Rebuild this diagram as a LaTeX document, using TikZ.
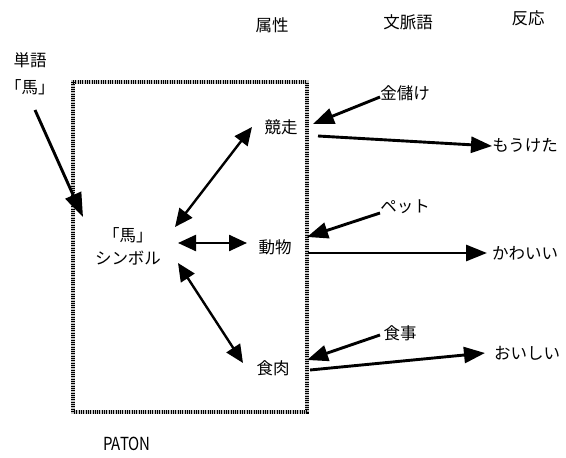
\documentclass[tikz,border=0pt]{standalone}
\usepackage{fontspec}
\setmainfont{Noto Sans CJK JP}
\usetikzlibrary{arrows.meta,calc}
\begin{document}
\begin{tikzpicture}[x=1pt,y=-1pt, font=\fontsize{16.5}{20}\selectfont,
 lbl/.style={inner sep=1pt},
 arr/.style={line width=2.9pt, -{Triangle[length=21pt,width=16pt]}},
 darr/.style={line width=2.4pt, {Triangle[length=18pt,width=16pt]}-{Triangle[length=18pt,width=16pt]}},
 frame/.style={line width=3.5pt}
]
\useasboundingbox (0,0) rectangle (566,458);
% PATON frame
\draw[frame, gray!45] (73,82) rectangle (307,412);
\draw[frame, dash pattern=on 0.9pt off 1.4pt] (73,82) rectangle (307,412);

% headers
\node[lbl] (h1) at (272,25) {属性};
\node[lbl] (h2) at (408,22) {文脈語};
\node[lbl] (h3) at (528,18) {反応};

% input word
\node[lbl] (word) at (30,60) {単語};
\node[lbl] (wordq) at (30,87) {「馬」};
\coordinate (wtip) at (83,217);

% symbol
\node[lbl, align=center] (sym) at (128,246) {「馬」\\[3pt]シンボル};

% attributes
\node[lbl] (kyoso) at (281,127) {競走};
\node[lbl] (dobutsu) at (275,247) {動物};
\node[lbl] (shoku) at (273,368) {食肉};

% context words
\node[lbl] (kin) at (405,93) {金儲け};
\node[lbl] (pet) at (405,207) {ペット};
\node[lbl] (shokuji) at (400,333) {食事};

% responses
\node[lbl] (mou) at (525,145) {もうけた};
\node[lbl] (kawa) at (525,253) {かわいい};
\node[lbl] (oi) at (527,353) {おいしい};

\node[lbl, font=\fontsize{15}{18}\selectfont, yscale=1.2, transform shape] (paton) at (127,444) {PATON};

% connectors
\draw[arr, -{Triangle[length=24pt,width=17pt]}] ($(wordq)+(5,23)$) -- (wtip);
\draw[darr] ($(sym)+(47,-19)$) -- ($(kyoso)+(-29,0)$);
\draw[darr] ($(sym)+(50,-3)$) -- ($(dobutsu)+(-28,-4)$);
\draw[darr] ($(sym)+(50,17)$) -- ($(shoku)+(-30,-5)$);

\draw[arr] ($(kin)+(-25,4)$) -- ($(kyoso)+(32,-3)$);
\draw[arr] ($(kyoso)+(37,9)$) -- ($(mou)+(-33,1)$);
\draw[arr] ($(pet)+(-25,6)$) -- ($(dobutsu)+(32,-10)$);
\draw[arr] ($(dobutsu)+(33,6)$) -- ($(kawa)+(-38,0)$);
\draw[arr] ($(shokuji)+(-20,2)$) -- ($(shoku)+(34,-8)$);
\draw[arr] ($(shoku)+(37,2)$) -- ($(oi)+(-42,0)$);
\end{tikzpicture}
\end{document}
